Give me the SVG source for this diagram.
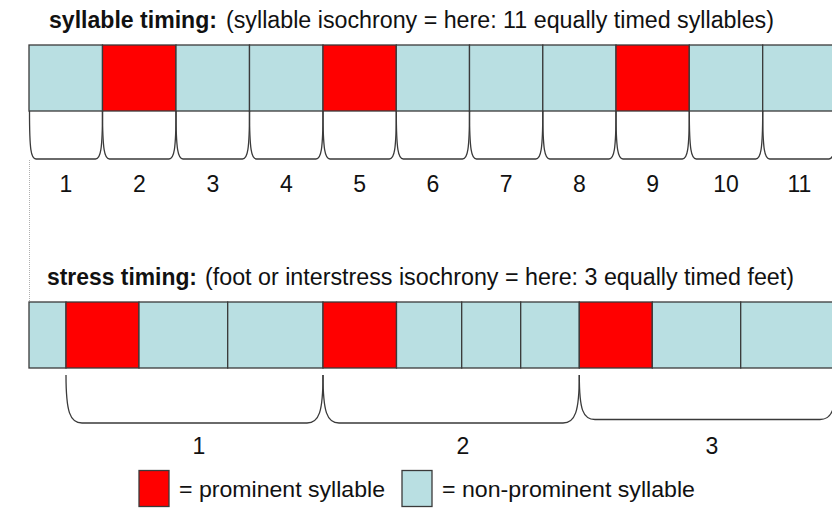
<svg xmlns="http://www.w3.org/2000/svg" width="832" height="515" viewBox="0 0 832 515">
<style>
  text { font-family: "Liberation Sans", Arial, sans-serif; fill: #111; }
  .b { font-weight: bold; }
  .t { font-size: 23px; }
  .num { font-size: 23px; text-anchor: middle; }
  .lg { font-size: 22.5px; }
  .p { fill: #ff0000; stroke: #3a3a3a; stroke-width: 1.3; }
  .n { fill: #b9dfe2; stroke: #3a3a3a; stroke-width: 1.3; }
  .br { fill: none; stroke: #3a3a3a; stroke-width: 1.3; }
  .edge { fill: none; stroke: #b0b0b0; stroke-width: 1; stroke-dasharray: 1 1; }
</style>
<rect x="0" y="0" width="832" height="515" fill="#ffffff"/>

<g id="title-syllable">
  <text class="t b" x="49" y="28" textLength="168" lengthAdjust="spacingAndGlyphs">syllable timing:</text>
  <text class="t" x="226" y="28" textLength="548" lengthAdjust="spacingAndGlyphs">(syllable isochrony = here: 11 equally timed syllables)</text>
</g>

<g id="syllable-row">
  <rect class="n" x="29" y="45" width="73.5" height="66"/>
  <rect class="p" x="102.5" y="45" width="73.5" height="66"/>
  <rect class="n" x="176" y="45" width="73.5" height="66"/>
  <rect class="n" x="249.5" y="45" width="73.5" height="66"/>
  <rect class="p" x="323" y="45" width="73.3" height="66"/>
  <rect class="n" x="396.3" y="45" width="73.2" height="66"/>
  <rect class="n" x="469.5" y="45" width="73.3" height="66"/>
  <rect class="n" x="542.8" y="45" width="73.2" height="66"/>
  <rect class="p" x="616" y="45" width="73.3" height="66"/>
  <rect class="n" x="689.3" y="45" width="73.4" height="66"/>
  <rect class="n" x="762.7" y="45" width="73.3" height="66"/>
</g>

<g id="syllable-numbers">
  <text class="num" x="65.8" y="192">1</text>
  <text class="num" x="139.3" y="192">2</text>
  <text class="num" x="212.8" y="192">3</text>
  <text class="num" x="286.3" y="192">4</text>
  <text class="num" x="359.7" y="192">5</text>
  <text class="num" x="432.9" y="192">6</text>
  <text class="num" x="506.2" y="192">7</text>
  <text class="num" x="579.4" y="192">8</text>
  <text class="num" x="652.7" y="192">9</text>
  <text class="num" x="726" y="192">10</text>
  <text class="num" x="799.4" y="192">11</text>
</g>

<line class="edge" x1="29.5" y1="160" x2="29.5" y2="302"/>

<g id="title-stress">
  <text class="t b" x="47" y="285" textLength="150" lengthAdjust="spacingAndGlyphs">stress timing:</text>
  <text class="t" x="205" y="285" textLength="589" lengthAdjust="spacingAndGlyphs">(foot or interstress isochrony = here: 3 equally timed feet)</text>
</g>

<g id="stress-row">
  <rect class="n" x="29" y="302" width="37" height="66"/>
  <rect class="p" x="66" y="302" width="73" height="66"/>
  <rect class="n" x="139" y="302" width="88.7" height="66"/>
  <rect class="n" x="227.7" y="302" width="95.3" height="66"/>
  <rect class="p" x="323" y="302" width="73.5" height="66"/>
  <rect class="n" x="396.5" y="302" width="65.2" height="66"/>
  <rect class="n" x="461.7" y="302" width="59" height="66"/>
  <rect class="n" x="520.7" y="302" width="58.6" height="66"/>
  <rect class="p" x="579.3" y="302" width="73" height="66"/>
  <rect class="n" x="652.3" y="302" width="88.4" height="66"/>
  <rect class="n" x="740.7" y="302" width="95.3" height="66"/>
</g>

<g id="connectors">
  <g id="syllable-braces">
    <path class="br" d="M29.5,111 C29.5,150 31,159 36,159 H95.5 C100.5,159 102.5,150 102.5,111"/>
    <path class="br" d="M102.5,111 C102.5,150 104.5,159 109.5,159 H169 C174,159 176,150 176,111"/>
    <path class="br" d="M176,111 C176,150 178,159 183,159 H242.5 C247.5,159 249.5,150 249.5,111"/>
    <path class="br" d="M249.5,111 C249.5,150 251.5,159 256.5,159 H316 C321,159 323,150 323,111"/>
    <path class="br" d="M323,111 C323,150 325,159 330,159 H389.3 C394.3,159 396.3,150 396.3,111"/>
    <path class="br" d="M396.3,111 C396.3,150 398.3,159 403.3,159 H462.5 C467.5,159 469.5,150 469.5,111"/>
    <path class="br" d="M469.5,111 C469.5,150 471.5,159 476.5,159 H535.8 C540.8,159 542.8,150 542.8,111"/>
    <path class="br" d="M542.8,111 C542.8,150 544.8,159 549.8,159 H609 C614,159 616,150 616,111"/>
    <path class="br" d="M616,111 C616,150 618,159 623,159 H682.3 C687.3,159 689.3,150 689.3,111"/>
    <path class="br" d="M689.3,111 C689.3,150 691.3,159 696.3,159 H755.7 C760.7,159 762.7,150 762.7,111"/>
    <path class="br" d="M762.7,111 C762.7,150 764.7,159 769.7,159 H829 C834,159 836,150 836,111"/>
  </g>
  <g id="foot-braces">
    <path class="br" d="M66,375 C66,412 70,423 82,423 H307 C319,423 323,412 323,375"/>
    <path class="br" d="M323,375 C323,412 327,423 339,423 H563 C575,423 579.3,412 579.3,375"/>
    <path class="br" d="M579.3,375 C579.3,410 583,419.5 595,419.5 H820 C832,419.5 836,410 836,375"/>
  </g>
</g>

<g id="foot-numbers">
  <text class="num" x="199" y="454">1</text>
  <text class="num" x="463" y="454">2</text>
  <text class="num" x="712" y="454">3</text>
</g>

<g id="legend-prominent">
  <rect class="p" x="139" y="470.5" width="30" height="36"/>
  <text class="lg" x="179" y="497" textLength="206" lengthAdjust="spacingAndGlyphs">= prominent syllable</text>
</g>
<g id="legend-nonprominent">
  <rect class="n" x="402" y="470.5" width="30" height="36"/>
  <text class="lg" x="442" y="497" textLength="253" lengthAdjust="spacingAndGlyphs">= non-prominent syllable</text>
</g>
</svg>
